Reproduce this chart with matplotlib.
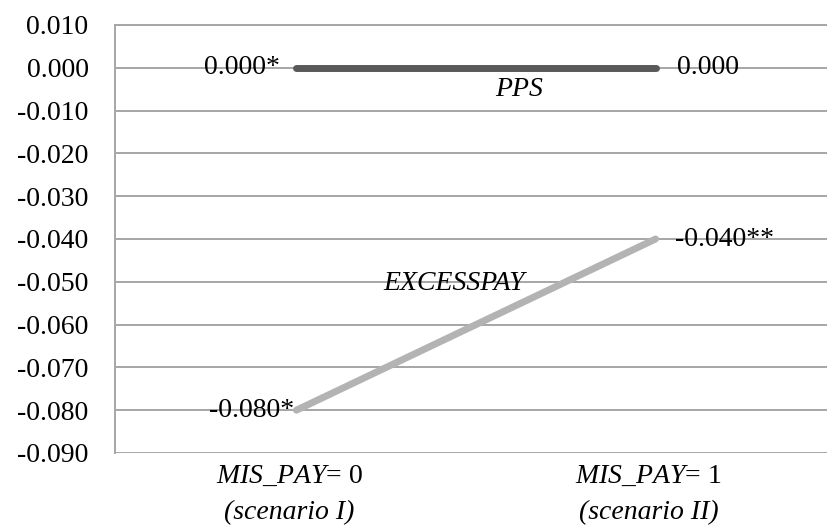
import matplotlib
matplotlib.use("Agg")
import matplotlib.pyplot as plt

plt.rcParams['font.family'] = ['Liberation Serif', 'DejaVu Serif']
plt.rcParams['mathtext.fontset'] = 'custom'
plt.rcParams['mathtext.rm'] = 'Liberation Serif'
plt.rcParams['mathtext.it'] = 'Liberation Serif:italic'

cat_line1 = ["$MIS\\_PAY$= 0", "$MIS\\_PAY$= 1"]
cat_line2 = ["(scenario I)", "(scenario II)"]
pps = [0.000, 0.000]
excesspay = [-0.080, -0.040]
pps_labels = ["0.000*", "0.000"]
excess_labels = ["-0.080*", "-0.040**"]
yticks = [0.010, 0.000, -0.010, -0.020, -0.030, -0.040, -0.050, -0.060, -0.070, -0.080, -0.090]

FS = 20
fig = plt.figure(figsize=(8.28, 5.30), dpi=100)
ax = fig.add_axes([115/828, 1 - 453/530, 1 - 115/828, (453 - 25)/530])

x = [0, 1]
ax.set_ylim(-0.090, 0.010)
ax.set_xlim(-0.505, 1.48)
ax.set_yticks(yticks)
ax.set_yticklabels([f"{v:.3f}" for v in yticks])
ax.yaxis.grid(True, color='#a6a6a6', linewidth=1.4)
ax.set_axisbelow(True)
for s in ['right', 'bottom']:
    ax.spines[s].set_visible(False)
ax.spines['top'].set_color('#a6a6a6')
ax.spines['top'].set_linewidth(1.4)
ax.spines['left'].set_color('#a6a6a6')
ax.spines['left'].set_linewidth(1.4)
ax.tick_params(axis='y', length=0, labelsize=FS, pad=19)
ax.set_xticks(x)
ax.set_xticklabels(["", ""])
ax.tick_params(axis='x', length=0)

trans = ax.get_xaxis_transform()
for xi, l1, l2 in zip(x, cat_line1, cat_line2):
    ax.text(xi - 0.02, -0.055, l1, transform=trans, ha='center', va='center', fontsize=FS)
    ax.text(xi - 0.02, -0.14, l2, transform=trans, ha='center', va='center', fontsize=FS, style='italic')

ax.plot(x, pps, color='#595959', linewidth=5, solid_capstyle='round', zorder=3)
ax.plot(x, excesspay, color='#b3b3b3', linewidth=5, solid_capstyle='round', zorder=3)

ax.text(x[0] - 0.045, pps[0], pps_labels[0], ha='right', va='center', fontsize=FS)
ax.text(x[1] + 0.06, pps[1], pps_labels[1], ha='left', va='center', fontsize=FS)
ax.text(x[0] - 0.005, excesspay[0], excess_labels[0], ha='right', va='center', fontsize=FS)
ax.text(x[1] + 0.055, excesspay[1], excess_labels[1], ha='left', va='center', fontsize=FS)
ax.text(0.62, -0.005, "PPS", style='italic', ha='center', va='center', fontsize=FS)
ax.text(0.44, -0.0505, "EXCESSPAY", style='italic', ha='center', va='center', fontsize=FS)

fig.savefig("out.png", dpi=100)
